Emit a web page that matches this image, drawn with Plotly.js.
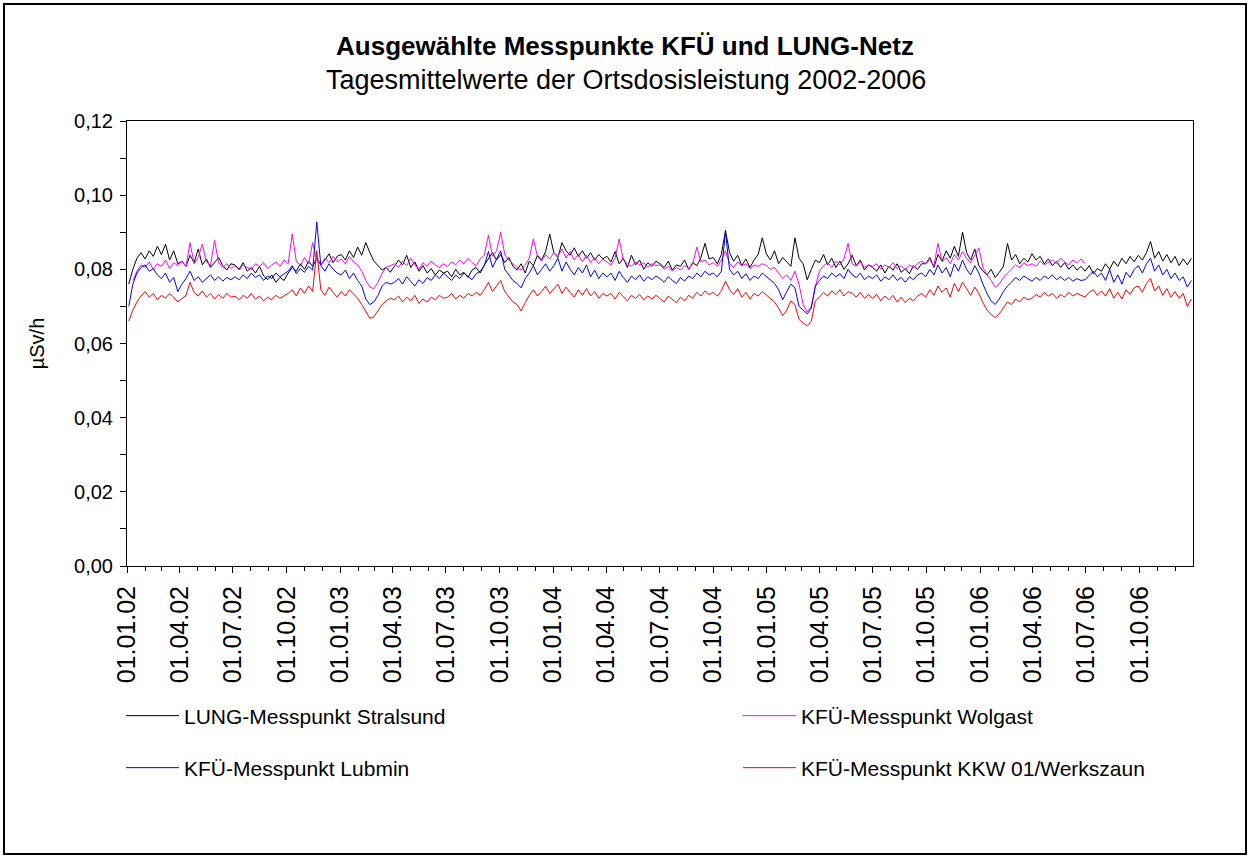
<!DOCTYPE html>
<html>
<head>
<meta charset="utf-8">
<script src="https://cdn.plot.ly/plotly-3.0.1.min.js"></script>
<style>
  html, body { margin: 0; padding: 0; background: #fff; }
  #chart { position: absolute; left: 0; top: 0; width: 1250px; height: 858px; }
  #frame { position: absolute; left: 3px; top: 3px; width: 1244px; height: 852px; box-sizing: border-box; border: 2px solid #000; pointer-events: none; }
</style>
</head>
<body>
<div id="chart"></div>
<div id="frame"></div>
<script>
// Weekly samples of the daily means (µSv/h), starting 04.01.2002, one value every 7 days
const seriesStart = '2002-01-04';
const stepMs = 7 * 24 * 3600 * 1000;

const seriesNames = [
  'LUNG-Messpunkt Stralsund',
  'KFÜ-Messpunkt Wolgast',
  'KFÜ-Messpunkt Lubmin',
  'KFÜ-Messpunkt KKW 01/Werkszaun'
];
const seriesColors = ['#000000', '#FF00FF', '#0000FF', '#FF0000'];

const stralsund = [
  0.0760,0.0800,0.0830,0.0845,0.0828,0.0850,0.0835,0.0862,0.0840,0.0868,0.0825,0.0850,0.0815,
  0.0822,0.0808,0.0838,0.0818,0.0855,0.0812,0.0828,0.0805,0.0820,0.0832,0.0810,0.0798,0.0815,
  0.0812,0.0800,0.0818,0.0795,0.0805,0.0790,0.0808,0.0782,0.0772,0.0785,0.0765,0.0778,0.0770,
  0.0790,0.0805,0.0795,0.0815,0.0800,0.0822,0.0808,0.0830,0.0812,0.0825,0.0842,0.0818,0.0835,
  0.0840,0.0825,0.0850,0.0832,0.0860,0.0838,0.0872,0.0845,0.0822,0.0810,0.0798,0.0805,0.0792,
  0.0808,0.0825,0.0812,0.0838,0.0805,0.0820,0.0795,0.0810,0.0790,0.0802,0.0785,0.0798,0.0790,
  0.0795,0.0780,0.0800,0.0785,0.0792,0.0778,0.0798,0.0805,0.0790,0.0812,0.0830,0.0845,0.0825,
  0.0840,0.0818,0.0832,0.0808,0.0798,0.0815,0.0790,0.0822,0.0810,0.0838,0.0825,0.0848,0.0895,
  0.0845,0.0832,0.0872,0.0850,0.0838,0.0858,0.0835,0.0850,0.0830,0.0845,0.0825,0.0840,0.0828,
  0.0835,0.0820,0.0848,0.0815,0.0830,0.0805,0.0838,0.0812,0.0825,0.0800,0.0818,0.0808,0.0822,
  0.0815,0.0805,0.0822,0.0798,0.0812,0.0808,0.0825,0.0800,0.0818,0.0810,0.0832,0.0870,0.0828,
  0.0832,0.0815,0.0840,0.0905,0.0845,0.0822,0.0838,0.0810,0.0828,0.0805,0.0825,0.0840,0.0885,
  0.0842,0.0825,0.0850,0.0815,0.0832,0.0820,0.0808,0.0885,0.0830,0.0815,0.0772,0.0800,0.0825,
  0.0818,0.0840,0.0812,0.0830,0.0805,0.0822,0.0800,0.0815,0.0838,0.0810,0.0825,0.0798,0.0812,
  0.0805,0.0795,0.0812,0.0790,0.0808,0.0798,0.0815,0.0792,0.0802,0.0788,0.0810,0.0800,0.0815,
  0.0815,0.0832,0.0805,0.0840,0.0822,0.0850,0.0830,0.0862,0.0835,0.0900,0.0845,0.0825,0.0855,
  0.0810,0.0795,0.0785,0.0800,0.0778,0.0792,0.0808,0.0870,0.0825,0.0840,0.0815,0.0830,0.0820,
  0.0842,0.0825,0.0835,0.0815,0.0828,0.0810,0.0822,0.0805,0.0818,0.0800,0.0812,0.0798,0.0808,
  0.0795,0.0810,0.0788,0.0802,0.0795,0.0815,0.0800,0.0822,0.0808,0.0830,0.0815,0.0835,0.0820,
  0.0838,0.0825,0.0845,0.0875,0.0830,0.0848,0.0822,0.0840,0.0818,0.0835,0.0810,0.0828,0.0812,0.0830
];

const wolgast = [
  null,0.0770,0.0795,0.0812,0.0805,0.0820,0.0800,0.0815,0.0808,0.0825,0.0802,0.0818,0.0810,
  0.0822,0.0808,0.0872,0.0815,0.0832,0.0868,0.0820,0.0810,0.0878,0.0818,0.0805,0.0815,0.0802,
  0.0810,0.0798,0.0812,0.0805,0.0800,0.0815,0.0808,0.0818,0.0802,0.0812,0.0820,0.0808,0.0825,
  0.0815,0.0895,0.0822,0.0810,0.0832,0.0815,0.0872,0.0825,0.0812,0.0830,0.0818,0.0835,0.0820,
  0.0828,0.0815,0.0835,0.0820,0.0812,0.0795,0.0770,0.0752,0.0748,0.0765,0.0790,0.0805,0.0810,
  0.0815,0.0805,0.0822,0.0810,0.0830,0.0812,0.0800,0.0818,0.0808,0.0822,0.0812,0.0805,0.0815,
  0.0808,0.0820,0.0812,0.0825,0.0815,0.0830,0.0818,0.0810,0.0828,0.0838,0.0892,0.0835,0.0850,
  0.0900,0.0840,0.0825,0.0815,0.0805,0.0798,0.0812,0.0830,0.0882,0.0835,0.0822,0.0840,0.0828,
  0.0845,0.0835,0.0855,0.0830,0.0848,0.0825,0.0840,0.0820,0.0838,0.0818,0.0832,0.0815,0.0828,
  0.0820,0.0812,0.0830,0.0882,0.0825,0.0815,0.0808,0.0820,0.0812,0.0818,0.0805,0.0815,0.0810,
  0.0812,0.0800,0.0808,0.0795,0.0805,0.0798,0.0810,0.0802,0.0815,0.0860,0.0820,0.0825,0.0812,
  0.0818,0.0808,0.0825,0.0850,0.0815,0.0805,0.0820,0.0810,0.0815,0.0802,0.0812,0.0808,0.0815,
  0.0810,0.0800,0.0805,0.0790,0.0775,0.0785,0.0770,0.0795,0.0760,0.0705,0.0685,0.0700,0.0755,
  0.0795,0.0810,0.0818,0.0805,0.0822,0.0812,0.0828,0.0870,0.0815,0.0808,0.0820,0.0805,0.0812,
  0.0808,0.0815,0.0800,0.0812,0.0805,0.0818,0.0802,0.0810,0.0798,0.0812,0.0805,0.0815,0.0822,
  0.0815,0.0825,0.0810,0.0870,0.0820,0.0832,0.0815,0.0840,0.0825,0.0848,0.0830,0.0818,0.0838,
  0.0858,0.0805,0.0785,0.0770,0.0752,0.0760,0.0778,0.0790,0.0800,0.0812,0.0805,0.0818,0.0810,
  0.0815,0.0808,0.0822,0.0812,0.0818,0.0825,0.0815,0.0830,0.0820,0.0812,0.0825,0.0818,0.0828,
  0.0815
];

const lubmin = [
  0.0700,0.0760,0.0790,0.0805,0.0812,0.0795,0.0802,0.0785,0.0775,0.0790,0.0765,0.0778,0.0740,
  0.0760,0.0775,0.0795,0.0770,0.0780,0.0765,0.0775,0.0785,0.0770,0.0780,0.0768,0.0778,0.0772,
  0.0780,0.0772,0.0785,0.0775,0.0790,0.0778,0.0785,0.0770,0.0782,0.0775,0.0790,0.0780,0.0788,
  0.0795,0.0810,0.0788,0.0802,0.0792,0.0808,0.0798,0.0928,0.0810,0.0795,0.0815,0.0800,0.0790,
  0.0785,0.0798,0.0775,0.0790,0.0770,0.0755,0.0720,0.0705,0.0712,0.0730,0.0755,0.0765,0.0760,
  0.0765,0.0775,0.0760,0.0780,0.0768,0.0755,0.0772,0.0762,0.0778,0.0770,0.0785,0.0775,0.0790,
  0.0780,0.0770,0.0785,0.0775,0.0790,0.0780,0.0772,0.0788,0.0795,0.0810,0.0848,0.0805,0.0830,
  0.0850,0.0800,0.0785,0.0770,0.0762,0.0750,0.0775,0.0790,0.0810,0.0785,0.0800,0.0815,0.0795,
  0.0810,0.0830,0.0795,0.0820,0.0800,0.0785,0.0805,0.0790,0.0812,0.0780,0.0798,0.0775,0.0790,
  0.0780,0.0790,0.0770,0.0795,0.0778,0.0765,0.0782,0.0772,0.0785,0.0768,0.0780,0.0772,0.0782,
  0.0775,0.0765,0.0780,0.0770,0.0762,0.0778,0.0768,0.0782,0.0775,0.0790,0.0780,0.0795,0.0785,
  0.0790,0.0780,0.0795,0.0900,0.0800,0.0785,0.0795,0.0775,0.0788,0.0770,0.0782,0.0775,0.0790,
  0.0780,0.0770,0.0762,0.0745,0.0718,0.0740,0.0760,0.0750,0.0700,0.0690,0.0680,0.0695,0.0755,
  0.0770,0.0782,0.0775,0.0790,0.0780,0.0788,0.0775,0.0800,0.0785,0.0778,0.0790,0.0772,0.0782,
  0.0775,0.0785,0.0768,0.0780,0.0772,0.0785,0.0770,0.0778,0.0765,0.0780,0.0772,0.0785,0.0790,
  0.0780,0.0800,0.0785,0.0812,0.0790,0.0805,0.0780,0.0815,0.0795,0.0825,0.0800,0.0785,0.0810,
  0.0790,0.0760,0.0735,0.0715,0.0705,0.0720,0.0740,0.0755,0.0765,0.0778,0.0770,0.0782,0.0775,
  0.0768,0.0778,0.0770,0.0782,0.0775,0.0785,0.0772,0.0780,0.0770,0.0778,0.0768,0.0775,0.0770,
  0.0772,0.0785,0.0795,0.0780,0.0790,0.0770,0.0800,0.0765,0.0785,0.0760,0.0792,0.0778,0.0800,
  0.0810,0.0790,0.0815,0.0830,0.0795,0.0812,0.0785,0.0800,0.0775,0.0790,0.0770,0.0780,0.0752,0.0770
];

const kkwWerkszaun = [
  0.0660,0.0690,0.0712,0.0728,0.0740,0.0725,0.0735,0.0718,0.0730,0.0722,0.0735,0.0725,0.0712,
  0.0722,0.0730,0.0765,0.0738,0.0728,0.0742,0.0725,0.0735,0.0720,0.0732,0.0722,0.0735,0.0725,
  0.0728,0.0718,0.0730,0.0722,0.0735,0.0720,0.0728,0.0715,0.0725,0.0718,0.0730,0.0722,0.0728,
  0.0735,0.0745,0.0728,0.0750,0.0735,0.0755,0.0740,0.0850,0.0745,0.0730,0.0752,0.0738,0.0725,
  0.0740,0.0728,0.0745,0.0732,0.0722,0.0705,0.0685,0.0668,0.0672,0.0690,0.0705,0.0715,0.0722,
  0.0718,0.0728,0.0712,0.0725,0.0715,0.0730,0.0708,0.0720,0.0712,0.0725,0.0718,0.0730,0.0722,
  0.0725,0.0735,0.0720,0.0730,0.0722,0.0735,0.0728,0.0738,0.0730,0.0745,0.0765,0.0740,0.0755,
  0.0770,0.0740,0.0725,0.0712,0.0705,0.0688,0.0710,0.0730,0.0745,0.0728,0.0740,0.0755,0.0735,
  0.0748,0.0760,0.0735,0.0752,0.0738,0.0725,0.0745,0.0730,0.0748,0.0728,0.0740,0.0722,0.0735,
  0.0728,0.0735,0.0720,0.0738,0.0725,0.0715,0.0730,0.0722,0.0732,0.0718,0.0728,0.0720,0.0730,
  0.0722,0.0712,0.0728,0.0718,0.0710,0.0725,0.0715,0.0730,0.0722,0.0738,0.0728,0.0742,0.0732,
  0.0738,0.0728,0.0742,0.0768,0.0745,0.0732,0.0748,0.0725,0.0738,0.0720,0.0735,0.0728,0.0740,
  0.0730,0.0722,0.0712,0.0695,0.0675,0.0690,0.0715,0.0705,0.0665,0.0655,0.0648,0.0660,0.0715,
  0.0725,0.0738,0.0728,0.0742,0.0732,0.0745,0.0728,0.0740,0.0735,0.0725,0.0738,0.0722,0.0732,
  0.0722,0.0732,0.0715,0.0728,0.0718,0.0730,0.0712,0.0725,0.0710,0.0722,0.0715,0.0728,0.0735,
  0.0725,0.0745,0.0730,0.0755,0.0738,0.0750,0.0725,0.0762,0.0740,0.0765,0.0748,0.0730,0.0752,
  0.0735,0.0710,0.0690,0.0678,0.0670,0.0680,0.0695,0.0712,0.0705,0.0720,0.0712,0.0725,0.0718,
  0.0722,0.0732,0.0725,0.0738,0.0728,0.0735,0.0722,0.0732,0.0725,0.0738,0.0728,0.0735,0.0730,
  0.0725,0.0738,0.0745,0.0730,0.0742,0.0728,0.0748,0.0722,0.0738,0.0720,0.0745,0.0732,0.0750,
  0.0755,0.0738,0.0762,0.0775,0.0742,0.0755,0.0730,0.0748,0.0725,0.0740,0.0722,0.0735,0.0700,0.0720
];

const seriesValues = [stralsund, wolgast, lubmin, kkwWerkszaun];
const legendOf = ['legend', 'legend2', 'legend3', 'legend4'];

const traces = seriesValues.map((vals, i) => ({
  type: 'scatter',
  mode: 'lines',
  name: seriesNames[i],
  x0: seriesStart,
  dx: stepMs,
  y: vals,
  line: { color: seriesColors[i], width: 1 },
  legend: legendOf[i],
  hoverinfo: 'skip'
}));

const FONT = 'Liberation Sans, Arial, Helvetica, sans-serif';
const L = 127, R = 57, T = 121, B = 292;
const PW = 1250 - L - R, PH = 858 - T - B;
const px2x = (px) => (px - L) / PW;
const py2y = (py) => (858 - B - py) / PH;

const legendCommon = {
  orientation: 'h',
  xanchor: 'left',
  yanchor: 'middle',
  font: { family: FONT, size: 21, color: '#000' },
  bgcolor: 'rgba(0,0,0,0)',
  borderwidth: 0,
  itemwidth: 53,
  traceorder: 'normal'
};

const layout = {
  width: 1250,
  height: 858,
  margin: { l: L, r: R, t: T, b: B, autoexpand: false },
  paper_bgcolor: '#ffffff',
  plot_bgcolor: '#ffffff',
  separators: ',.',
  font: { family: FONT, color: '#000' },
  showlegend: true,
  title: {
    text: '<b>Ausgewählte Messpunkte KFÜ und LUNG-Netz</b>',
    font: { family: FONT, size: 26, color: '#000' },
    xref: 'container', x: 0.5, xanchor: 'center',
    yref: 'container', y: 1 - 46 / 858, yanchor: 'middle'
  },
  annotations: [{
    text: 'Tagesmittelwerte der Ortsdosisleistung 2002-2006',
    xref: 'paper', yref: 'paper',
    x: px2x(626), y: py2y(80),
    xanchor: 'center', yanchor: 'middle',
    showarrow: false,
    font: { family: FONT, size: 27, color: '#000' }
  }],
  xaxis: {
    type: 'date',
    range: ['2002-01-01', '2006-12-31 18:00'],
    tick0: '2002-01-01',
    dtick: 'M3',
    tickformat: '%d.%m.%y',
    tickangle: -90,
    ticks: 'outside',
    ticklen: 6,
    tickwidth: 1,
    tickcolor: '#000',
    tickfont: { family: FONT, size: 25, color: '#000' },
    ticklabelstandoff: 3,
    showline: true, linecolor: '#000', linewidth: 1, mirror: true,
    showgrid: false, zeroline: false,
    minor: { dtick: 'M1', ticks: 'outside', ticklen: 4, tickwidth: 1, tickcolor: '#000', showgrid: false },
    fixedrange: true
  },
  yaxis: {
    range: [0, 0.12],
    dtick: 0.02,
    tick0: 0,
    tickformat: '.2f',
    ticks: 'outside',
    ticklen: 6,
    tickwidth: 1,
    tickcolor: '#000',
    tickfont: { family: FONT, size: 20, color: '#000' },
    ticklabelstandoff: 3,
    showline: true, linecolor: '#000', linewidth: 1, mirror: true,
    showgrid: false, zeroline: false,
    minor: { dtick: 0.01, ticks: 'outside', ticklen: 6, tickwidth: 1, tickcolor: '#000', showgrid: false },
    title: { text: 'µSv/h', font: { family: FONT, size: 20, color: '#000' }, standoff: 24 },
    fixedrange: true
  },
  legend: Object.assign({}, legendCommon, { x: px2x(121), y: py2y(716) }),
  legend2: Object.assign({}, legendCommon, { x: px2x(738), y: py2y(716) }),
  legend3: Object.assign({}, legendCommon, { x: px2x(121), y: py2y(768) }),
  legend4: Object.assign({}, legendCommon, { x: px2x(738), y: py2y(768) })
};

Plotly.newPlot('chart', traces, layout, { staticPlot: true, displayModeBar: false });
</script>
</body>
</html>
